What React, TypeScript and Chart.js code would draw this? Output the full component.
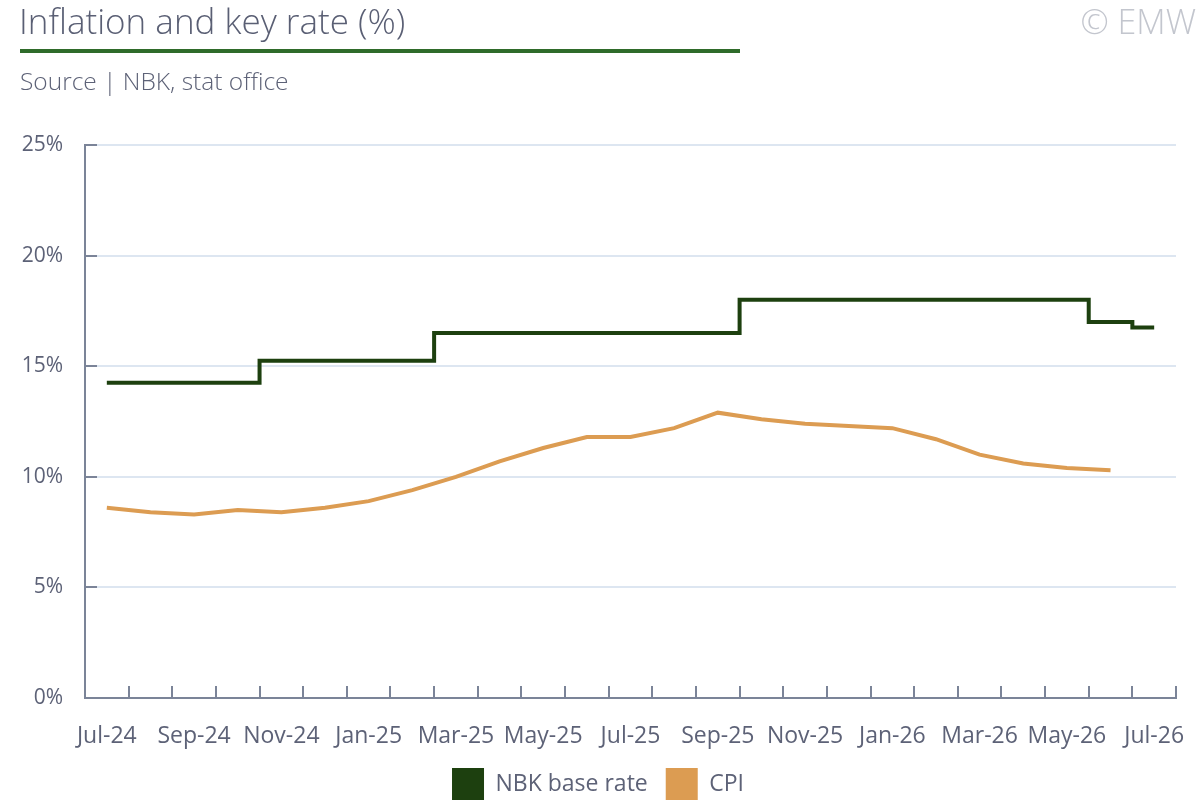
import React, { useEffect, useRef } from 'react';
import { Chart, registerables } from 'chart.js';

Chart.register(...registerables);

const months = [
  'Jul-24', 'Aug-24', 'Sep-24', 'Oct-24', 'Nov-24', 'Dec-24',
  'Jan-25', 'Feb-25', 'Mar-25', 'Apr-25', 'May-25', 'Jun-25',
  'Jul-25', 'Aug-25', 'Sep-25', 'Oct-25', 'Nov-25', 'Dec-25',
  'Jan-26', 'Feb-26', 'Mar-26', 'Apr-26', 'May-26', 'Jun-26', 'Jul-26',
];

// NBK base rate, %
const baseRate = [
  14.25, 14.25, 14.25, 14.25, 15.25, 15.25, 15.25, 15.25,
  16.5, 16.5, 16.5, 16.5, 16.5, 16.5, 16.5,
  18, 18, 18, 18, 18, 18, 18, 18, 17, 16.75,
];

// CPI y/y, %
const cpi = [
  8.6, 8.4, 8.3, 8.5, 8.4, 8.6, 8.9, 9.4, 10.0, 10.7, 11.3, 11.8,
  11.8, 12.2, 12.9, 12.6, 12.4, 12.3, 12.2, 11.7, 11.0, 10.6, 10.4, 10.3, null,
];

const yTicks = [0, 5, 10, 15, 20, 25];

const FONT = '"Open Sans", Lato, sans-serif';
const TEXT = '#5d6277';
const AXIS = '#7b8498';
const GRID = '#dde6f1';

export default function App() {
  const canvasRef = useRef<HTMLCanvasElement>(null);
  const chartRef = useRef<Chart | null>(null);

  useEffect(() => {
    document.body.style.margin = '0';
    if (!canvasRef.current) return;
    if (chartRef.current) chartRef.current.destroy();

    chartRef.current = new Chart(canvasRef.current, {
      type: 'line',
      data: {
        labels: months,
        datasets: [
          {
            label: 'NBK base rate',
            data: baseRate,
            borderColor: '#1d400f',
            backgroundColor: '#1d400f',
            borderWidth: 4,
            stepped: 'middle',
            pointRadius: 0,
          },
          {
            label: 'CPI',
            data: cpi,
            borderColor: '#dc9c52',
            backgroundColor: '#dc9c52',
            borderWidth: 4,
            pointRadius: 0,
            tension: 0,
          },
        ],
      },
      options: {
        animation: false,
        responsive: false,
        layout: { padding: { top: 145, left: 20, right: 24, bottom: -10 } },
        scales: {
          x: {
            offset: true,
            grid: {
              offset: true,
              drawOnChartArea: false,
              tickLength: -12,
              tickColor: AXIS,
              lineWidth: 2,
            },
            border: { color: AXIS, width: 2 },
            ticks: {
              autoSkip: false,
              maxRotation: 0,
              padding: 37,
              color: TEXT,
              font: { family: FONT, size: 23 },
              callback: (_v, i) => (i % 2 === 0 ? months[i] : ''),
            },
            afterFit: (s: any) => {
              s.height = 52;
              s.paddingLeft = 0;
              s.paddingRight = 0;
            },
          },
          y: {
            min: 0,
            max: 25,
            afterBuildTicks: (s: any) => { s.ticks = yTicks.map((v) => ({ value: v })); },
            grid: {
              color: (c: any) => (c.tick && c.tick.value === 0 ? 'rgba(0,0,0,0)' : GRID),
              tickColor: AXIS,
              tickLength: -12,
              lineWidth: 2,
            },
            border: { color: AXIS, width: 2 },
            ticks: {
              padding: 34,
              color: TEXT,
              font: { family: FONT, size: 21 },
              callback: (v) => v + '%',
            },
            afterFit: (s: any) => {
              s.width = 65;
              s.paddingTop = 0;
              s.paddingBottom = 0;
            },
          },
        },
        plugins: {
          legend: {
            position: 'bottom',
            labels: {
              boxWidth: 32,
              boxHeight: 32,
              padding: 18,
              color: TEXT,
              font: { family: FONT, size: 23 },
              generateLabels: (chart: Chart) =>
                Chart.defaults.plugins.legend.labels.generateLabels(chart).map((l) => ({ ...l, lineWidth: 0 })),
            },
          },
          tooltip: { enabled: false },
        },
      },
    });

    return () => {
      if (chartRef.current) {
        chartRef.current.destroy();
        chartRef.current = null;
      }
    };
  }, []);

  return (
    <div style={{ position: 'relative', width: 1200, height: 800, fontFamily: FONT, overflow: 'hidden' }}>
      <canvas ref={canvasRef} width={1200} height={800} style={{ position: 'absolute', left: 0, top: 0 }} />
      <div style={{ position: 'absolute', left: 19, top: -3, fontSize: 35, color: '#5a5f74', lineHeight: '48px', fontWeight: 300 }}>
        Inflation and key rate (%)
      </div>
      <div style={{ position: 'absolute', left: 20, top: 49, width: 720, height: 4, background: '#2f6b2a' }} />
      <div style={{ position: 'absolute', left: 20, top: 64, fontSize: 24.5, color: TEXT, lineHeight: '34px', fontWeight: 300 }}>
        Source | NBK, stat office
      </div>
      <div style={{ position: 'absolute', right: 4, top: -2, fontSize: 34, color: '#c3c6ce', lineHeight: '46px', fontWeight: 300 }}>
        © EMW
      </div>
    </div>
  );
}
